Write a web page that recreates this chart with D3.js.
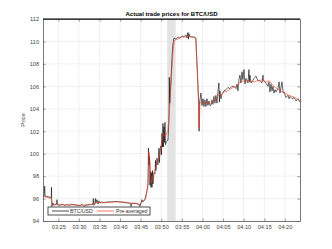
<!DOCTYPE html>
<html>
<head>
<meta charset="utf-8">
<script src="https://cdn.jsdelivr.net/npm/d3@7"></script>
<style>
  body { margin: 0; background: #fff; }
  text { font-family: "Liberation Sans", Arial, sans-serif; }
</style>
</head>
<body>
<div id="chart"></div>
<script>
// minutes after 03:00 and price of every trade
const tradeMin = [21.29, 21.53, 21.70, 21.80, 22.26, 22.99, 23.30, 23.35, 23.42, 23.71, 23.9, 24.2, 24.6, 24.68, 24.75,
  25.41, 26.14, 26.5, 26.87, 27.84, 28.3, 28.81, 29.78, 30.3, 30.75, 31.2, 31.72, 32.69, 33.42, 33.5, 33.6, 33.91,
  34.0, 34.15, 34.39, 34.63, 34.88, 35.12, 35.36, 36.09, 37.06, 38.03, 39.0, 39.97, 40.94, 41.91, 42.6, 42.64, 42.9,
  43.85, 44.58, 44.82, 45.07, 45.3, 45.55, 46.04, 46.28, 46.6, 46.77, 46.89, 47.0, 47.13, 47.26, 47.40, 47.50, 47.62,
  47.75, 47.86, 47.98, 48.23, 48.47, 48.6, 48.71, 48.95, 49.2, 49.44, 49.55, 49.68, 49.93, 50.05, 50.17, 50.29, 50.41,
  50.53, 50.66, 50.78, 50.90, 51.02, 51.26, 51.63, 51.87, 51.95, 52.05, 52.35, 52.60, 52.84, 53.08, 53.57, 54.05,
  54.54, 55.02, 55.51, 56.0, 56.24, 56.48, 56.60, 56.72, 56.97, 57.45, 57.94, 58.42, 58.66, 58.91, 59.12, 59.18,
  59.22, 59.39, 59.63, 59.88, 60.12, 60.36, 60.60, 60.85, 61.09, 61.33, 61.57, 61.82, 62.06, 62.30, 62.55, 62.79,
  63.03, 63.27, 63.52, 63.76, 64.0, 64.12, 64.25, 64.49, 64.73, 65.22, 65.70, 66.19, 66.67, 67.16, 67.65, 68.13,
  68.38, 68.62, 68.86, 69.10, 69.35, 69.59, 69.83, 70.08, 70.32, 70.56, 71.05, 71.29, 71.40, 71.53, 71.78, 72.02,
  72.50, 72.99, 73.48, 73.96, 74.45, 74.70, 74.80, 75.42, 75.91, 76.15, 76.39, 76.63, 76.88, 77.12, 77.36, 77.61,
  77.85, 78.33, 78.6, 78.82, 79.31, 79.6, 79.79, 80.28, 80.76, 81.01, 81.25, 81.74, 82.22, 82.71, 83.19, 83.68];
const tradePrice = [96.3, 96.2, 97.1, 96.2, 96.2, 96.1, 96.1, 97.0, 95.3, 95.6, 95.4, 95.45, 95.5, 95.9, 95.45,
  95.4, 95.5, 95.35, 95.45, 95.4, 95.5, 95.45, 95.4, 95.35, 95.5, 95.3, 95.4, 95.45, 95.5, 96.0, 95.4, 95.5,
  96.0, 95.6, 95.9, 95.5, 95.8, 95.6, 95.7, 95.65, 95.7, 95.7, 95.75, 95.7, 95.65, 95.6, 95.6, 95.3, 95.6,
  95.55, 95.5, 95.3, 95.6, 95.9, 95.7, 95.9, 96.3, 96.8, 97.2, 100.5, 99.0, 99.8, 97.2, 98.4, 97.0, 98.3,
  97.0, 98.5, 97.3, 98.3, 98.2, 99.4, 98.5, 99.6, 99.0, 100.5, 99.2, 100.2, 100.7, 99.9, 101.8, 100.6, 102.7,
  100.6, 102.4, 101.0, 102.8, 100.8, 101.1, 101.2, 103.0, 106.8, 104.5, 106.5, 108.5, 109.8, 110.3, 110.2, 110.4,
  110.3, 110.5, 110.4, 110.6, 110.3, 110.8, 110.2, 110.7, 110.4, 110.4, 110.4, 110.3, 108.0, 106.0, 104.2, 102.0,
  104.3, 104.8, 105.4, 104.3, 104.9, 104.2, 104.8, 104.2, 104.9, 104.3, 104.7, 104.3, 104.3, 104.8, 104.4, 105.1,
  104.5, 105.2, 104.5, 105.5, 106.3, 104.6, 105.6, 104.9, 105.3, 105.6, 105.7, 105.9, 105.8, 106.0, 106.0, 105.8,
  106.2, 105.6, 106.6, 107.0, 106.3, 107.3, 106.6, 107.5, 106.2, 106.7, 106.3, 107.5, 106.4, 107.0, 106.3, 106.4,
  106.7, 106.9, 106.5, 106.5, 106.3, 107.0, 106.5, 106.3, 106.0, 106.4, 105.5, 106.2, 105.6, 106.0, 105.4, 105.7,
  105.5, 105.8, 106.4, 105.4, 106.4, 105.4, 105.5, 105.0, 105.2, 104.9, 105.1, 104.9, 105.0, 104.7, 104.9, 104.6];

// pre-averaged price
const avgMin = [21.29, 22.3, 23.3, 23.7, 24.7, 26, 28, 30, 32, 33.5, 34.5, 35.5, 37, 39, 41, 42.6, 43.5, 44.8,
  45.5, 46.3, 46.8, 47.0, 47.3, 47.6, 48.2, 48.9, 49.7, 50.4, 51.0, 51.6, 52.1, 52.5, 52.9, 53.2, 54, 55, 56,
  56.7, 57.5, 58.3, 58.7, 59.0, 59.2, 59.4, 60, 61, 62, 63, 64, 64.5, 65.2, 66.2, 67.2, 68.1, 69, 70, 71.3, 72.3,
  73.5, 74.7, 75.4, 76.2, 77.1, 77.9, 79, 80, 81, 82.2, 83.68];
const avgPrice = [96.2, 96.1, 96.0, 95.5, 95.5, 95.45, 95.45, 95.4, 95.45, 95.5, 95.7, 95.6, 95.65, 95.7, 95.7,
  95.55, 95.6, 95.45, 95.7, 96.1, 97.5, 100.2, 99.2, 97.4, 98.2, 99.0, 100.0, 101.8, 101.5, 102.1, 104.5, 107.0,
  109.3, 110.1, 110.2, 110.4, 110.4, 110.5, 110.4, 110.3, 108, 105, 102.3, 104.6, 104.6, 104.5, 104.5, 104.7,
  105.3, 105.2, 105.5, 105.6, 105.85, 106.0, 106.3, 106.5, 106.5, 106.4, 106.5, 106.6, 106.4, 106.5, 106.1,
  105.85, 105.6, 105.4, 105.2, 105.05, 104.7];

const bandMin = [51.45, 53.5];
const xTickMin = [25, 30, 35, 40, 45, 50, 55, 60, 65, 70, 75, 80];
const yTicks = [94, 96, 98, 100, 102, 104, 106, 108, 110, 112];
const seriesNames = ["BTC/USD", "Pre-averaged"];

const width = 332, height = 249;
const margin = { top: 19, right: 32, bottom: 28, left: 43 };
const toDate = m => new Date(2020, 0, 1, 3, 0, 0, Math.round(m * 60000));

const trades = tradeMin.map((m, i) => ({ time: toDate(m), value: tradePrice[i] }));
const avg = avgMin.map((m, i) => ({ time: toDate(m), value: avgPrice[i] }));

const x = d3.scaleTime()
  .domain([toDate(tradeMin[0]), toDate(tradeMin[tradeMin.length - 1])])
  .range([margin.left, width - margin.right]);
const y = d3.scaleLinear()
  .domain([94, 112])
  .range([height - margin.bottom, margin.top]);

const svg = d3.select("#chart").append("svg")
  .attr("width", width)
  .attr("height", height);

const x0 = margin.left, x1 = width - margin.right,
  y0 = height - margin.bottom, y1 = margin.top;

// highlighted interval
svg.append("rect")
  .attr("x", x(toDate(bandMin[0])))
  .attr("y", y1)
  .attr("width", x(toDate(bandMin[1])) - x(toDate(bandMin[0])))
  .attr("height", y0 - y1)
  .attr("fill", "#e3e3e3");

// grid
svg.append("g")
  .selectAll("line.gx")
  .data(xTickMin)
  .enter()
  .append("line")
  .attr("x1", d => x(toDate(d)))
  .attr("x2", d => x(toDate(d)))
  .attr("y1", y1)
  .attr("y2", y0)
  .attr("stroke", "#e6e6e6")
  .attr("stroke-width", 0.6);
svg.append("g")
  .selectAll("line.gy")
  .data(yTicks)
  .enter()
  .append("line")
  .attr("x1", x0)
  .attr("x2", x1)
  .attr("y1", d => y(d))
  .attr("y2", d => y(d))
  .attr("stroke", "#e6e6e6")
  .attr("stroke-width", 0.6);

const line = d3.line()
  .x(d => x(d.time))
  .y(d => y(d.value));

svg.append("path")
  .datum(trades)
  .attr("d", line)
  .attr("fill", "none")
  .attr("stroke", "#000")
  .attr("stroke-width", 0.6);

svg.append("path")
  .datum(avg)
  .attr("d", line)
  .attr("fill", "none")
  .attr("stroke", "#ff3a24")
  .attr("stroke-width", 0.6);

// axes
const fmt = d3.timeFormat("%H:%M");
svg.append("g")
  .attr("transform", "translate(0," + y0 + ")")
  .call(d3.axisBottom(x).tickValues(xTickMin.map(toDate)).tickFormat(fmt).tickSizeInner(-2.5).tickSizeOuter(0).tickPadding(4));
svg.append("g")
  .attr("transform", "translate(" + x0 + ",0)")
  .call(d3.axisLeft(y).tickValues(yTicks).tickSizeInner(-2.5).tickSizeOuter(0).tickPadding(4));
svg.append("g")
  .attr("transform", "translate(0," + y1 + ")")
  .call(d3.axisTop(x).tickValues(xTickMin.map(toDate)).tickFormat("").tickSizeInner(-2.5).tickSizeOuter(0));
svg.append("g")
  .attr("transform", "translate(" + x1 + ",0)")
  .call(d3.axisRight(y).tickValues(yTicks).tickFormat("").tickSizeInner(-2.5).tickSizeOuter(0));

svg.selectAll(".domain").attr("stroke", "#555").attr("stroke-width", 0.8);
svg.selectAll(".tick line").attr("stroke", "#555").attr("stroke-width", 0.6);
svg.selectAll(".tick text")
  .attr("fill", "#444")
  .style("font-size", "5.6px");

svg.append("line")
  .attr("x1", x0).attr("x2", x1)
  .attr("y1", y1).attr("y2", y1)
  .attr("stroke", "#000")
  .attr("stroke-width", 1);

// title and label
svg.append("text")
  .attr("x", (x0 + x1) / 2)
  .attr("y", 16)
  .attr("text-anchor", "middle")
  .style("font-size", "6px")
  .style("font-weight", "bold")
  .text("Actual trade prices for BTC/USD");

svg.append("text")
  .attr("transform", "translate(25," + (y0 + y1) / 2 + ") rotate(-90)")
  .attr("text-anchor", "middle")
  .attr("fill", "#444")
  .style("font-size", "6px")
  .text("Price");

// legend
const lg = svg.append("g").attr("transform", "translate(48,207)");
lg.append("rect")
  .attr("width", 102)
  .attr("height", 8)
  .attr("fill", "#fff")
  .attr("stroke", "#222")
  .attr("stroke-width", 0.8);
const items = [
  { name: seriesNames[0], color: "#000", x: 4, tx: 22 },
  { name: seriesNames[1], color: "#ff3a24", x: 49, tx: 68 }
];
items.forEach(it => {
  lg.append("line")
    .attr("x1", it.x).attr("x2", it.x + 17)
    .attr("y1", 4).attr("y2", 4)
    .attr("stroke", it.color)
    .attr("stroke-width", 0.7);
  lg.append("text")
    .attr("x", it.tx)
    .attr("y", 6)
    .attr("fill", "#333")
    .style("font-size", "5.2px")
    .text(it.name);
});
</script>
</body>
</html>
